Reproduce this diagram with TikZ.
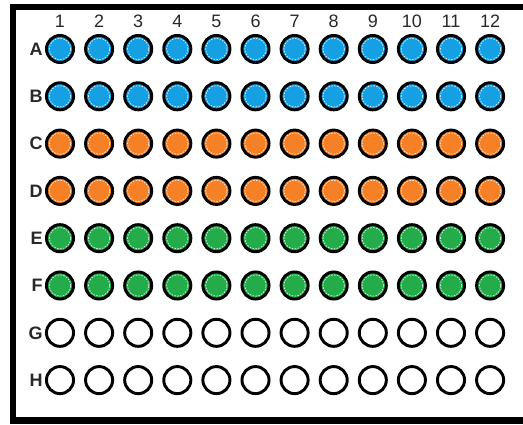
\documentclass[tikz,border=0pt]{standalone}
\usepackage{fontspec}
\setmainfont{Liberation Sans}
\definecolor{wellblue}{RGB}{22,160,228}
\definecolor{wellorange}{RGB}{246,128,38}
\definecolor{wellgreen}{RGB}{36,172,74}
\definecolor{labelgray}{RGB}{40,40,40}
\usetikzlibrary{positioning}

\begin{document}
\begin{tikzpicture}[x=0.75pt,y=-0.75pt,
  well/.style={circle,draw=black,line width=2.2pt,minimum size=20.3pt,inner sep=0pt,fill=white},
  fullwell/.style={well,fill=#1,
    path picture={\draw[white,line width=0.45pt,dash pattern=on 1.2pt off 1pt]
      (path picture bounding box.center) circle (8pt);}},
  bluewell/.style={fullwell=wellblue},
  orangewell/.style={fullwell=wellorange},
  greenwell/.style={fullwell=wellgreen},
  emptywell/.style={well},
  lbl/.style={font=\fontsize{13.5}{15}\selectfont,text=labelgray,inner sep=0pt},
  rowlbl/.style={lbl,font=\fontsize{13.5}{15}\selectfont\bfseries}
]
  \useasboundingbox (0,0) rectangle (523,424);

  % Plate frame (cut off at the right)
  \draw[line width=4.8pt,line join=miter] (523,7) -- (13,7) -- (13,420.5) -- (523,420.5);

  % Wells
  \foreach \r/\kind [count=\i] in {A/bluewell,B/bluewell,C/orangewell,D/orangewell,
      E/greenwell,F/greenwell,G/emptywell,H/emptywell} {
    \foreach \c in {1,...,12}
      \node[\kind] (\r\c) at ({60+(\c-1)*39.1},{49+(\i-1)*47.3}) {};
    \node[rowlbl,left=1.5pt of \r1] (row\r) {\r};
  }

  % Column numbers
  \foreach \c in {1,...,12}
    \node[lbl,above=4.5pt of A\c] (col\c) {\c};
\end{tikzpicture}
\end{document}
